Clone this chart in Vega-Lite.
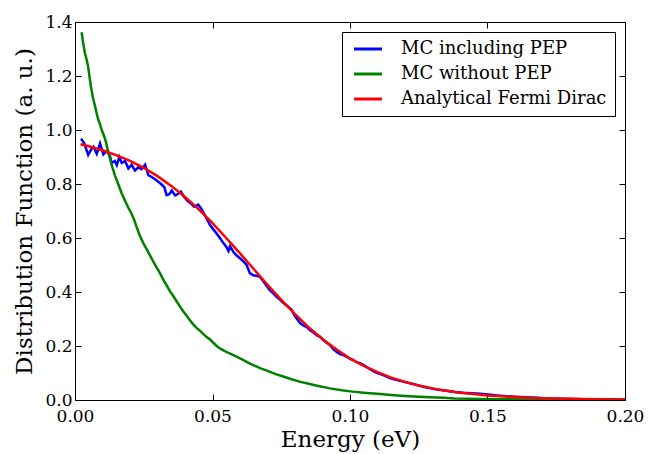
{
  "$schema": "https://vega.github.io/schema/vega-lite/v6.json",
  "width": 550,
  "height": 378,
  "autosize": {"type": "none"},
  "padding": {"left": 75, "top": 22, "right": 24, "bottom": 54},
  "background": "white",
  "config": {
    "view": {"stroke": "black", "strokeWidth": 1},
    "font": "DejaVu Serif",
    "axis": {
      "grid": false,
      "domainColor": "black",
      "tickColor": "black",
      "labelColor": "black",
      "titleColor": "black",
      "labelFont": "DejaVu Serif",
      "titleFont": "DejaVu Serif",
      "labelFontSize": 17,
      "titleFontSize": 23,
      "titleFontWeight": "normal",
      "tickSize": -6,
      "tickWidth": 1,
      "labelFlush": false
    },
    "legend": {
      "labelFont": "DejaVu Serif",
      "labelFontSize": 18,
      "labelColor": "black"
    }
  },
  "data": {
    "values": [
      {"series": "MC including PEP", "energy": 0.0022, "value": 0.968},
      {"series": "MC including PEP", "energy": 0.0034, "value": 0.950},
      {"series": "MC including PEP", "energy": 0.0048, "value": 0.908},
      {"series": "MC including PEP", "energy": 0.0060, "value": 0.930},
      {"series": "MC including PEP", "energy": 0.0067, "value": 0.938},
      {"series": "MC including PEP", "energy": 0.0079, "value": 0.912},
      {"series": "MC including PEP", "energy": 0.0091, "value": 0.950},
      {"series": "MC including PEP", "energy": 0.0103, "value": 0.910},
      {"series": "MC including PEP", "energy": 0.0115, "value": 0.922},
      {"series": "MC including PEP", "energy": 0.0127, "value": 0.905},
      {"series": "MC including PEP", "energy": 0.0133, "value": 0.878},
      {"series": "MC including PEP", "energy": 0.0145, "value": 0.885},
      {"series": "MC including PEP", "energy": 0.0152, "value": 0.870},
      {"series": "MC including PEP", "energy": 0.0161, "value": 0.900},
      {"series": "MC including PEP", "energy": 0.0170, "value": 0.878},
      {"series": "MC including PEP", "energy": 0.0182, "value": 0.885},
      {"series": "MC including PEP", "energy": 0.0194, "value": 0.858},
      {"series": "MC including PEP", "energy": 0.0206, "value": 0.872},
      {"series": "MC including PEP", "energy": 0.0218, "value": 0.850},
      {"series": "MC including PEP", "energy": 0.0230, "value": 0.862},
      {"series": "MC including PEP", "energy": 0.0242, "value": 0.855},
      {"series": "MC including PEP", "energy": 0.0255, "value": 0.872},
      {"series": "MC including PEP", "energy": 0.0267, "value": 0.833},
      {"series": "MC including PEP", "energy": 0.0279, "value": 0.826},
      {"series": "MC including PEP", "energy": 0.0291, "value": 0.818},
      {"series": "MC including PEP", "energy": 0.0303, "value": 0.808},
      {"series": "MC including PEP", "energy": 0.0315, "value": 0.798},
      {"series": "MC including PEP", "energy": 0.0325, "value": 0.788},
      {"series": "MC including PEP", "energy": 0.0333, "value": 0.759},
      {"series": "MC including PEP", "energy": 0.0343, "value": 0.762},
      {"series": "MC including PEP", "energy": 0.0352, "value": 0.776},
      {"series": "MC including PEP", "energy": 0.0364, "value": 0.758},
      {"series": "MC including PEP", "energy": 0.0373, "value": 0.762},
      {"series": "MC including PEP", "energy": 0.0385, "value": 0.772},
      {"series": "MC including PEP", "energy": 0.0397, "value": 0.752},
      {"series": "MC including PEP", "energy": 0.0409, "value": 0.738},
      {"series": "MC including PEP", "energy": 0.0421, "value": 0.728},
      {"series": "MC including PEP", "energy": 0.0433, "value": 0.716},
      {"series": "MC including PEP", "energy": 0.0448, "value": 0.724},
      {"series": "MC including PEP", "energy": 0.0458, "value": 0.710},
      {"series": "MC including PEP", "energy": 0.0467, "value": 0.694},
      {"series": "MC including PEP", "energy": 0.0479, "value": 0.672},
      {"series": "MC including PEP", "energy": 0.0491, "value": 0.648},
      {"series": "MC including PEP", "energy": 0.0503, "value": 0.632},
      {"series": "MC including PEP", "energy": 0.0515, "value": 0.617},
      {"series": "MC including PEP", "energy": 0.0527, "value": 0.600},
      {"series": "MC including PEP", "energy": 0.0539, "value": 0.582},
      {"series": "MC including PEP", "energy": 0.0550, "value": 0.568},
      {"series": "MC including PEP", "energy": 0.0558, "value": 0.552},
      {"series": "MC including PEP", "energy": 0.0564, "value": 0.570},
      {"series": "MC including PEP", "energy": 0.0576, "value": 0.548},
      {"series": "MC including PEP", "energy": 0.0588, "value": 0.535},
      {"series": "MC including PEP", "energy": 0.0600, "value": 0.525},
      {"series": "MC including PEP", "energy": 0.0612, "value": 0.514},
      {"series": "MC including PEP", "energy": 0.0624, "value": 0.500},
      {"series": "MC including PEP", "energy": 0.0636, "value": 0.470},
      {"series": "MC including PEP", "energy": 0.0648, "value": 0.462},
      {"series": "MC including PEP", "energy": 0.0660, "value": 0.460},
      {"series": "MC including PEP", "energy": 0.0673, "value": 0.456},
      {"series": "MC including PEP", "energy": 0.0685, "value": 0.440},
      {"series": "MC including PEP", "energy": 0.0697, "value": 0.422},
      {"series": "MC including PEP", "energy": 0.0709, "value": 0.406},
      {"series": "MC including PEP", "energy": 0.0721, "value": 0.395},
      {"series": "MC including PEP", "energy": 0.0733, "value": 0.382},
      {"series": "MC including PEP", "energy": 0.0745, "value": 0.372},
      {"series": "MC including PEP", "energy": 0.0757, "value": 0.360},
      {"series": "MC including PEP", "energy": 0.0770, "value": 0.350},
      {"series": "MC including PEP", "energy": 0.0788, "value": 0.334},
      {"series": "MC including PEP", "energy": 0.0800, "value": 0.310},
      {"series": "MC including PEP", "energy": 0.0818, "value": 0.286},
      {"series": "MC including PEP", "energy": 0.0830, "value": 0.276},
      {"series": "MC including PEP", "energy": 0.0843, "value": 0.270},
      {"series": "MC including PEP", "energy": 0.0855, "value": 0.258},
      {"series": "MC including PEP", "energy": 0.0867, "value": 0.250},
      {"series": "MC including PEP", "energy": 0.0879, "value": 0.240},
      {"series": "MC including PEP", "energy": 0.0891, "value": 0.234},
      {"series": "MC including PEP", "energy": 0.0903, "value": 0.222},
      {"series": "MC including PEP", "energy": 0.0915, "value": 0.212},
      {"series": "MC including PEP", "energy": 0.0927, "value": 0.204},
      {"series": "MC including PEP", "energy": 0.0940, "value": 0.188},
      {"series": "MC including PEP", "energy": 0.0952, "value": 0.178},
      {"series": "MC including PEP", "energy": 0.0964, "value": 0.170},
      {"series": "MC including PEP", "energy": 0.0976, "value": 0.166},
      {"series": "MC including PEP", "energy": 0.0988, "value": 0.160},
      {"series": "MC including PEP", "energy": 0.1000, "value": 0.152},
      {"series": "MC including PEP", "energy": 0.1012, "value": 0.148},
      {"series": "MC including PEP", "energy": 0.1024, "value": 0.140},
      {"series": "MC including PEP", "energy": 0.1036, "value": 0.136},
      {"series": "MC including PEP", "energy": 0.1048, "value": 0.130},
      {"series": "MC including PEP", "energy": 0.1061, "value": 0.122},
      {"series": "MC including PEP", "energy": 0.1073, "value": 0.114},
      {"series": "MC including PEP", "energy": 0.1085, "value": 0.107},
      {"series": "MC including PEP", "energy": 0.1097, "value": 0.101},
      {"series": "MC including PEP", "energy": 0.1121, "value": 0.092},
      {"series": "MC including PEP", "energy": 0.1145, "value": 0.081},
      {"series": "MC including PEP", "energy": 0.1170, "value": 0.074},
      {"series": "MC including PEP", "energy": 0.1194, "value": 0.068},
      {"series": "MC including PEP", "energy": 0.1218, "value": 0.062},
      {"series": "MC including PEP", "energy": 0.1242, "value": 0.056},
      {"series": "MC including PEP", "energy": 0.1266, "value": 0.049},
      {"series": "MC including PEP", "energy": 0.1290, "value": 0.044},
      {"series": "MC including PEP", "energy": 0.1321, "value": 0.038},
      {"series": "MC including PEP", "energy": 0.1352, "value": 0.034},
      {"series": "MC including PEP", "energy": 0.1382, "value": 0.030},
      {"series": "MC including PEP", "energy": 0.1412, "value": 0.027},
      {"series": "MC including PEP", "energy": 0.1442, "value": 0.025},
      {"series": "MC including PEP", "energy": 0.1473, "value": 0.023},
      {"series": "MC including PEP", "energy": 0.1503, "value": 0.020},
      {"series": "MC including PEP", "energy": 0.1533, "value": 0.017},
      {"series": "MC including PEP", "energy": 0.1558, "value": 0.015},
      {"series": "MC including PEP", "energy": 0.1600, "value": 0.012},
      {"series": "MC including PEP", "energy": 0.1640, "value": 0.010},
      {"series": "MC including PEP", "energy": 0.1680, "value": 0.008},
      {"series": "MC including PEP", "energy": 0.1720, "value": 0.006},
      {"series": "MC including PEP", "energy": 0.1760, "value": 0.005},
      {"series": "MC including PEP", "energy": 0.1800, "value": 0.004},
      {"series": "MC including PEP", "energy": 0.1850, "value": 0.003},
      {"series": "MC including PEP", "energy": 0.1900, "value": 0.002},
      {"series": "MC including PEP", "energy": 0.1950, "value": 0.0015},
      {"series": "MC including PEP", "energy": 0.2000, "value": 0.001},
      {"series": "MC without PEP", "energy": 0.0024, "value": 1.362},
      {"series": "MC without PEP", "energy": 0.0030, "value": 1.320},
      {"series": "MC without PEP", "energy": 0.0036, "value": 1.285},
      {"series": "MC without PEP", "energy": 0.0042, "value": 1.262},
      {"series": "MC without PEP", "energy": 0.0048, "value": 1.234},
      {"series": "MC without PEP", "energy": 0.0053, "value": 1.195},
      {"series": "MC without PEP", "energy": 0.0058, "value": 1.160},
      {"series": "MC without PEP", "energy": 0.0065, "value": 1.120},
      {"series": "MC without PEP", "energy": 0.0073, "value": 1.088},
      {"series": "MC without PEP", "energy": 0.0079, "value": 1.060},
      {"series": "MC without PEP", "energy": 0.0085, "value": 1.037},
      {"series": "MC without PEP", "energy": 0.0091, "value": 1.022},
      {"series": "MC without PEP", "energy": 0.0097, "value": 1.000},
      {"series": "MC without PEP", "energy": 0.0103, "value": 0.985},
      {"series": "MC without PEP", "energy": 0.0109, "value": 0.968},
      {"series": "MC without PEP", "energy": 0.0115, "value": 0.945},
      {"series": "MC without PEP", "energy": 0.0121, "value": 0.918},
      {"series": "MC without PEP", "energy": 0.0127, "value": 0.895},
      {"series": "MC without PEP", "energy": 0.0136, "value": 0.862},
      {"series": "MC without PEP", "energy": 0.0145, "value": 0.832},
      {"series": "MC without PEP", "energy": 0.0157, "value": 0.800},
      {"series": "MC without PEP", "energy": 0.0170, "value": 0.765},
      {"series": "MC without PEP", "energy": 0.0182, "value": 0.738},
      {"series": "MC without PEP", "energy": 0.0194, "value": 0.712},
      {"series": "MC without PEP", "energy": 0.0206, "value": 0.690},
      {"series": "MC without PEP", "energy": 0.0216, "value": 0.665},
      {"series": "MC without PEP", "energy": 0.0226, "value": 0.635},
      {"series": "MC without PEP", "energy": 0.0236, "value": 0.608},
      {"series": "MC without PEP", "energy": 0.0248, "value": 0.582},
      {"series": "MC without PEP", "energy": 0.0260, "value": 0.560},
      {"series": "MC without PEP", "energy": 0.0273, "value": 0.535},
      {"series": "MC without PEP", "energy": 0.0285, "value": 0.512},
      {"series": "MC without PEP", "energy": 0.0297, "value": 0.490},
      {"series": "MC without PEP", "energy": 0.0309, "value": 0.470},
      {"series": "MC without PEP", "energy": 0.0321, "value": 0.446},
      {"series": "MC without PEP", "energy": 0.0333, "value": 0.425},
      {"series": "MC without PEP", "energy": 0.0345, "value": 0.403},
      {"series": "MC without PEP", "energy": 0.0358, "value": 0.384},
      {"series": "MC without PEP", "energy": 0.0370, "value": 0.365},
      {"series": "MC without PEP", "energy": 0.0382, "value": 0.346},
      {"series": "MC without PEP", "energy": 0.0394, "value": 0.328},
      {"series": "MC without PEP", "energy": 0.0406, "value": 0.312},
      {"series": "MC without PEP", "energy": 0.0418, "value": 0.295},
      {"series": "MC without PEP", "energy": 0.0430, "value": 0.280},
      {"series": "MC without PEP", "energy": 0.0442, "value": 0.267},
      {"series": "MC without PEP", "energy": 0.0455, "value": 0.256},
      {"series": "MC without PEP", "energy": 0.0467, "value": 0.244},
      {"series": "MC without PEP", "energy": 0.0479, "value": 0.233},
      {"series": "MC without PEP", "energy": 0.0491, "value": 0.224},
      {"series": "MC without PEP", "energy": 0.0503, "value": 0.212},
      {"series": "MC without PEP", "energy": 0.0515, "value": 0.200},
      {"series": "MC without PEP", "energy": 0.0527, "value": 0.191},
      {"series": "MC without PEP", "energy": 0.0545, "value": 0.181},
      {"series": "MC without PEP", "energy": 0.0564, "value": 0.172},
      {"series": "MC without PEP", "energy": 0.0582, "value": 0.163},
      {"series": "MC without PEP", "energy": 0.0600, "value": 0.154},
      {"series": "MC without PEP", "energy": 0.0618, "value": 0.145},
      {"series": "MC without PEP", "energy": 0.0636, "value": 0.135},
      {"series": "MC without PEP", "energy": 0.0655, "value": 0.126},
      {"series": "MC without PEP", "energy": 0.0673, "value": 0.118},
      {"series": "MC without PEP", "energy": 0.0700, "value": 0.108},
      {"series": "MC without PEP", "energy": 0.0730, "value": 0.096},
      {"series": "MC without PEP", "energy": 0.0760, "value": 0.086},
      {"series": "MC without PEP", "energy": 0.0790, "value": 0.076},
      {"series": "MC without PEP", "energy": 0.0820, "value": 0.067},
      {"series": "MC without PEP", "energy": 0.0850, "value": 0.060},
      {"series": "MC without PEP", "energy": 0.0880, "value": 0.053},
      {"series": "MC without PEP", "energy": 0.0927, "value": 0.043},
      {"series": "MC without PEP", "energy": 0.0970, "value": 0.036},
      {"series": "MC without PEP", "energy": 0.1010, "value": 0.031},
      {"series": "MC without PEP", "energy": 0.1050, "value": 0.027},
      {"series": "MC without PEP", "energy": 0.1110, "value": 0.022},
      {"series": "MC without PEP", "energy": 0.1160, "value": 0.018},
      {"series": "MC without PEP", "energy": 0.1200, "value": 0.015},
      {"series": "MC without PEP", "energy": 0.1250, "value": 0.012},
      {"series": "MC without PEP", "energy": 0.1290, "value": 0.010},
      {"series": "MC without PEP", "energy": 0.1340, "value": 0.008},
      {"series": "MC without PEP", "energy": 0.1380, "value": 0.006},
      {"series": "MC without PEP", "energy": 0.1430, "value": 0.005},
      {"series": "MC without PEP", "energy": 0.1470, "value": 0.004},
      {"series": "MC without PEP", "energy": 0.1550, "value": 0.003},
      {"series": "MC without PEP", "energy": 0.1650, "value": 0.002},
      {"series": "MC without PEP", "energy": 0.1800, "value": 0.001},
      {"series": "MC without PEP", "energy": 0.2000, "value": 0.0005},
      {"series": "Analytical Fermi Dirac", "energy": 0.002, "value": 0.947},
      {"series": "Analytical Fermi Dirac", "energy": 0.005, "value": 0.940},
      {"series": "Analytical Fermi Dirac", "energy": 0.010, "value": 0.925},
      {"series": "Analytical Fermi Dirac", "energy": 0.015, "value": 0.907},
      {"series": "Analytical Fermi Dirac", "energy": 0.020, "value": 0.886},
      {"series": "Analytical Fermi Dirac", "energy": 0.025, "value": 0.860},
      {"series": "Analytical Fermi Dirac", "energy": 0.030, "value": 0.829},
      {"series": "Analytical Fermi Dirac", "energy": 0.035, "value": 0.793},
      {"series": "Analytical Fermi Dirac", "energy": 0.040, "value": 0.752},
      {"series": "Analytical Fermi Dirac", "energy": 0.045, "value": 0.706},
      {"series": "Analytical Fermi Dirac", "energy": 0.050, "value": 0.655},
      {"series": "Analytical Fermi Dirac", "energy": 0.055, "value": 0.600},
      {"series": "Analytical Fermi Dirac", "energy": 0.060, "value": 0.543},
      {"series": "Analytical Fermi Dirac", "energy": 0.065, "value": 0.485},
      {"series": "Analytical Fermi Dirac", "energy": 0.070, "value": 0.427},
      {"series": "Analytical Fermi Dirac", "energy": 0.075, "value": 0.371},
      {"series": "Analytical Fermi Dirac", "energy": 0.080, "value": 0.318},
      {"series": "Analytical Fermi Dirac", "energy": 0.085, "value": 0.269},
      {"series": "Analytical Fermi Dirac", "energy": 0.090, "value": 0.226},
      {"series": "Analytical Fermi Dirac", "energy": 0.095, "value": 0.188},
      {"series": "Analytical Fermi Dirac", "energy": 0.100, "value": 0.154},
      {"series": "Analytical Fermi Dirac", "energy": 0.105, "value": 0.126},
      {"series": "Analytical Fermi Dirac", "energy": 0.110, "value": 0.103},
      {"series": "Analytical Fermi Dirac", "energy": 0.115, "value": 0.083},
      {"series": "Analytical Fermi Dirac", "energy": 0.120, "value": 0.067},
      {"series": "Analytical Fermi Dirac", "energy": 0.125, "value": 0.054},
      {"series": "Analytical Fermi Dirac", "energy": 0.130, "value": 0.043},
      {"series": "Analytical Fermi Dirac", "energy": 0.135, "value": 0.034},
      {"series": "Analytical Fermi Dirac", "energy": 0.140, "value": 0.027},
      {"series": "Analytical Fermi Dirac", "energy": 0.145, "value": 0.022},
      {"series": "Analytical Fermi Dirac", "energy": 0.150, "value": 0.017},
      {"series": "Analytical Fermi Dirac", "energy": 0.155, "value": 0.0137},
      {"series": "Analytical Fermi Dirac", "energy": 0.160, "value": 0.0109},
      {"series": "Analytical Fermi Dirac", "energy": 0.165, "value": 0.0086},
      {"series": "Analytical Fermi Dirac", "energy": 0.170, "value": 0.0068},
      {"series": "Analytical Fermi Dirac", "energy": 0.175, "value": 0.0054},
      {"series": "Analytical Fermi Dirac", "energy": 0.180, "value": 0.0043},
      {"series": "Analytical Fermi Dirac", "energy": 0.185, "value": 0.0034},
      {"series": "Analytical Fermi Dirac", "energy": 0.190, "value": 0.0027},
      {"series": "Analytical Fermi Dirac", "energy": 0.195, "value": 0.0021},
      {"series": "Analytical Fermi Dirac", "energy": 0.200, "value": 0.0017}
    ]
  },
  "resolve": {"axis": {"x": "independent", "y": "independent"}},
  "layer": [
    {
      "mark": {"type": "line", "strokeWidth": 2.5, "clip": true},
      "encoding": {
        "x": {
          "field": "energy", "type": "quantitative",
          "scale": {"domain": [0, 0.2], "nice": false, "zero": false},
          "axis": {"orient": "bottom", "values": [0, 0.05, 0.1, 0.15, 0.2], "format": ".2f", "title": "Energy (eV)", "labelPadding": 14, "titlePadding": 4}
        },
        "y": {
          "field": "value", "type": "quantitative",
          "scale": {"domain": [0, 1.4], "nice": false},
          "axis": {"orient": "left", "values": [0, 0.2, 0.4, 0.6, 0.8, 1.0, 1.2, 1.4], "format": ".1f", "title": "Distribution Function (a. u.)", "labelPadding": 9, "titlePadding": 8}
        },
        "color": {
          "field": "series", "type": "nominal",
          "scale": {"domain": ["MC including PEP", "MC without PEP", "Analytical Fermi Dirac"], "range": ["#0000ff", "#008000", "#ff0000"]},
          "legend": {
            "title": null, "orient": "top-right", "offset": 10,
            "strokeColor": "black", "fillColor": "white", "padding": 8, "cornerRadius": 0,
            "symbolType": "M-2,0L2,0", "symbolSize": 196, "symbolStrokeWidth": 3,
            "labelFont": "DejaVu Serif", "labelFontSize": 18, "labelLimit": 400,
            "labelOffset": 24, "rowPadding": 7, "symbolOffset": 9
          }
        }
      }
    },
    {
      "mark": {"type": "point", "opacity": 0},
      "encoding": {
        "x": {
          "field": "energy", "type": "quantitative",
          "axis": {"orient": "top", "values": [0, 0.05, 0.1, 0.15, 0.2], "labels": false, "title": null}
        },
        "y": {
          "field": "value", "type": "quantitative",
          "axis": {"orient": "right", "values": [0, 0.2, 0.4, 0.6, 0.8, 1.0, 1.2, 1.4], "labels": false, "title": null}
        }
      }
    }
  ]
}
